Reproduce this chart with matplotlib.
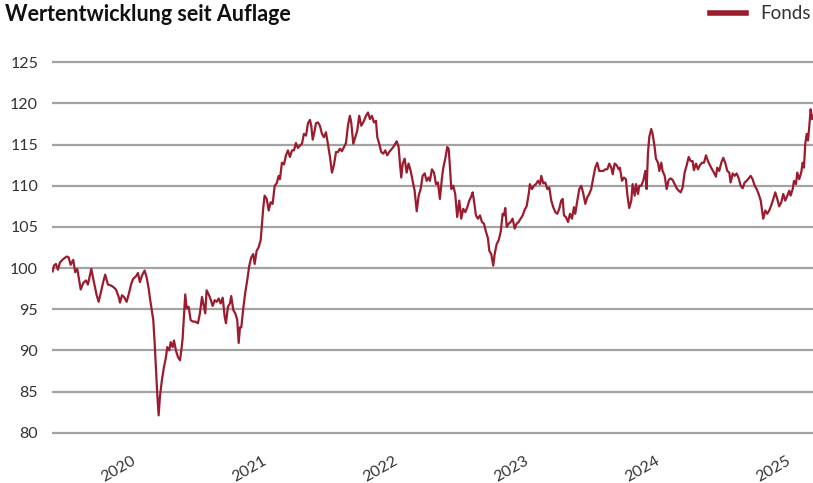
import matplotlib
matplotlib.use("Agg")
import matplotlib.pyplot as plt
from matplotlib.transforms import ScaledTranslation

# fund value (indexed to 100 at launch), x in fractional years
years = [
    2019.410, 2019.420, 2019.435, 2019.450, 2019.466, 2019.491, 2019.517, 2019.532, 2019.547, 2019.567,
    2019.582, 2019.598, 2019.624, 2019.644, 2019.664, 2019.679, 2019.705, 2019.725, 2019.746, 2019.761,
    2019.776, 2019.796, 2019.811, 2019.832, 2019.853, 2019.873, 2019.893, 2019.914, 2019.924, 2019.939,
    2019.954, 2019.975, 2019.995, 2020.010, 2020.025, 2020.046, 2020.061, 2020.076, 2020.092, 2020.112,
    2020.127, 2020.143, 2020.153, 2020.166, 2020.178, 2020.189, 2020.198, 2020.208, 2020.219, 2020.229,
    2020.244, 2020.260, 2020.275, 2020.285, 2020.300, 2020.311, 2020.326, 2020.336, 2020.351, 2020.366,
    2020.382, 2020.392, 2020.402, 2020.412, 2020.422, 2020.433, 2020.448, 2020.463, 2020.479, 2020.498,
    2020.519, 2020.534, 2020.550, 2020.565, 2020.575, 2020.585, 2020.601, 2020.616, 2020.631, 2020.647,
    2020.662, 2020.677, 2020.692, 2020.708, 2020.723, 2020.733, 2020.748, 2020.763, 2020.773, 2020.789,
    2020.804, 2020.819, 2020.830, 2020.840, 2020.850, 2020.865, 2020.880, 2020.895, 2020.911,
    2020.926, 2020.941, 2020.952, 2020.967, 2020.982, 2020.998, 2021.008, 2021.018, 2021.028, 2021.044,
    2021.059, 2021.074, 2021.089, 2021.105, 2021.120, 2021.135, 2021.145, 2021.160, 2021.176, 2021.191,
    2021.206, 2021.221, 2021.237, 2021.252, 2021.267, 2021.282, 2021.298, 2021.313, 2021.328, 2021.344,
    2021.359, 2021.374, 2021.384, 2021.395, 2021.410, 2021.420, 2021.435, 2021.450, 2021.466, 2021.481,
    2021.496, 2021.511, 2021.527, 2021.542, 2021.557, 2021.573, 2021.588, 2021.603, 2021.618, 2021.634,
    2021.649, 2021.664, 2021.679, 2021.689, 2021.705, 2021.720, 2021.735, 2021.750, 2021.766, 2021.781,
    2021.802, 2021.817, 2021.832, 2021.847, 2021.863, 2021.878, 2021.888, 2021.903, 2021.918, 2021.934,
    2021.949, 2021.964, 2021.979, 2021.995, 2022.010, 2022.025, 2022.036, 2022.051, 2022.061, 2022.071,
    2022.082, 2022.097, 2022.112, 2022.127, 2022.143, 2022.158, 2022.173, 2022.189, 2022.204, 2022.219,
    2022.234, 2022.250, 2022.265, 2022.280,
    2022.290, 2022.305, 2022.321, 2022.336, 2022.351, 2022.366, 2022.382, 2022.392, 2022.407, 2022.422,
    2022.433, 2022.443, 2022.453, 2022.468, 2022.483, 2022.498, 2022.514, 2022.529, 2022.544, 2022.560,
    2022.575, 2022.590, 2022.605, 2022.616, 2022.626, 2022.641, 2022.656, 2022.672, 2022.687, 2022.702,
    2022.718, 2022.733, 2022.743, 2022.758, 2022.773, 2022.784, 2022.799, 2022.815, 2022.830, 2022.845,
    2022.855, 2022.865, 2022.876, 2022.891, 2022.906, 2022.921, 2022.937, 2022.952, 2022.967, 2022.982,
    2022.998, 2023.013, 2023.028, 2023.044, 2023.053, 2023.069, 2023.084, 2023.099, 2023.115, 2023.130,
    2023.140, 2023.155, 2023.170, 2023.186, 2023.201, 2023.216, 2023.231, 2023.247, 2023.262, 2023.277,
    2023.292, 2023.303, 2023.313, 2023.328, 2023.344, 2023.359, 2023.374, 2023.389, 2023.399, 2023.415,
    2023.430, 2023.445, 2023.460, 2023.476, 2023.491, 2023.506, 2023.521, 2023.537, 2023.552, 2023.567,
    2023.582, 2023.598, 2023.613, 2023.628, 2023.644, 2023.659, 2023.674, 2023.685, 2023.700, 2023.715,
    2023.731,
    2023.740, 2023.756, 2023.771, 2023.786, 2023.796, 2023.811, 2023.827, 2023.837, 2023.853, 2023.863,
    2023.878, 2023.888, 2023.903, 2023.918, 2023.934, 2023.944, 2023.954, 2023.964, 2023.979, 2023.990,
    2024.005, 2024.015, 2024.031, 2024.041, 2024.056, 2024.066, 2024.082, 2024.097, 2024.112, 2024.127,
    2024.143, 2024.158, 2024.173, 2024.189, 2024.204, 2024.219, 2024.234, 2024.250, 2024.265, 2024.280,
    2024.295, 2024.305, 2024.321, 2024.336, 2024.351, 2024.366, 2024.382, 2024.397, 2024.412, 2024.427,
    2024.443, 2024.458, 2024.473, 2024.483, 2024.498, 2024.514, 2024.529, 2024.544, 2024.560, 2024.575,
    2024.585, 2024.601, 2024.616, 2024.631, 2024.647, 2024.662, 2024.677, 2024.692, 2024.708, 2024.723,
    2024.738, 2024.753, 2024.769, 2024.784, 2024.799, 2024.815, 2024.824, 2024.834, 2024.850, 2024.865,
    2024.880, 2024.895, 2024.911, 2024.926, 2024.941, 2024.956, 2024.972, 2024.987, 2025.002, 2025.018,
    2025.033, 2025.043, 2025.059, 2025.069, 2025.084, 2025.094, 2025.109, 2025.124, 2025.135, 2025.145,
    2025.155, 2025.166, 2025.176, 2025.186, 2025.196, 2025.206, 2025.214,
]

fonds = [
    99.6, 100.3, 100.5, 99.8, 100.7, 101.1, 101.4, 101.3, 100.4, 101.0,
    99.5, 99.9, 97.4, 98.2, 98.5, 98.0, 99.9, 98.3, 96.7, 95.9,
    96.9, 98.3, 99.2, 98.0, 97.9, 97.7, 97.4, 96.5, 95.8, 96.7,
    96.5, 95.9, 97.1, 98.1, 98.7, 99.0, 99.4, 98.3, 99.1, 99.7,
    98.9, 97.5, 96.3, 94.9, 93.7, 90.8, 88.0, 84.8, 82.1, 84.4,
    86.4, 88.0, 89.2, 90.4, 90.0, 91.0, 90.4, 91.2, 90.0, 89.2,
    88.8, 90.0, 91.4, 94.1, 96.8, 95.1, 95.3, 93.7, 93.5, 93.5,
    93.3, 94.5, 96.5, 95.3, 94.5, 97.3, 96.8, 96.2, 95.4, 96.1,
    95.9, 96.3, 95.7, 96.4, 94.1, 93.3, 95.3, 95.7, 96.6, 94.9,
    94.5, 93.7, 90.9, 92.8, 92.8, 95.1, 97.0, 98.5, 100.3,
    101.3, 101.7, 100.5, 102.1, 102.5, 103.4, 105.4, 107.4, 108.8, 108.4,
    107.0, 108.0, 107.8, 110.0, 110.3, 111.2, 110.8, 112.8, 112.6, 113.7,
    114.3, 113.5, 114.3, 114.3, 115.2, 114.6, 114.9, 115.1, 116.3, 116.1,
    117.6, 118.0, 117.3, 115.6, 116.7, 117.6, 117.7, 117.3, 116.3, 115.9,
    116.5, 115.1, 113.5, 111.6, 112.5, 114.1, 114.1, 114.5, 114.2, 114.7,
    115.2, 117.3, 118.5, 117.7, 115.1, 115.9, 116.7, 118.5, 117.3, 117.7,
    118.5, 118.9, 118.1, 118.5, 117.7, 117.9, 115.9, 115.1, 114.1, 113.9,
    114.3, 113.7, 114.1, 114.4, 114.7, 115.1, 115.4, 114.7, 112.7, 111.0,
    112.7, 113.3, 111.6, 112.7, 111.8, 110.6, 109.4, 106.9, 108.8, 109.6,
    111.2, 111.5, 110.6, 111.0,
    110.6, 112.0, 111.6, 110.2, 110.4, 108.4, 111.0, 112.2, 113.3, 114.7,
    114.5, 112.2, 109.6, 110.0, 109.0, 106.2, 108.2, 106.0, 107.2, 106.8,
    107.4, 108.2, 108.7, 109.2, 108.2, 106.4, 106.0, 106.4, 105.6, 105.4,
    104.4, 103.6, 102.1, 101.7, 100.3, 101.7, 102.9, 103.4, 104.4, 106.6,
    106.4, 107.3, 105.0, 105.4, 105.6, 106.0, 104.8, 105.4, 105.6, 106.0,
    106.4, 107.1, 107.5, 109.0, 110.2, 109.6, 110.0, 110.2, 110.6, 110.2,
    111.2, 110.3, 110.4, 109.6, 109.8, 108.2, 107.4, 106.8, 106.6, 107.2,
    108.2, 108.4, 106.4, 106.2, 105.6, 106.6, 106.0, 107.4, 106.6, 108.2,
    109.6, 110.0, 109.1, 107.8, 108.6, 109.0, 109.6, 111.0, 112.2, 112.8,
    111.8, 111.8, 111.8, 112.0, 112.0, 112.7, 112.2, 111.4, 112.7, 112.5,
    112.0,
    112.2, 110.6, 111.0, 110.8, 109.0, 107.3, 108.2, 110.2, 108.8, 110.2,
    109.0, 110.0, 110.0, 110.6, 111.8, 109.6, 113.9, 115.9, 116.9, 116.3,
    114.7, 113.3, 112.8, 111.8, 112.8, 111.8, 111.2, 109.6, 110.7, 110.9,
    110.7, 110.2, 109.7, 109.4, 109.2, 109.8, 111.6, 112.5, 113.5, 113.0,
    113.0, 111.9, 112.7, 112.0, 112.5, 112.8, 112.8, 113.7, 113.0, 112.5,
    112.0, 111.6, 111.1, 112.2, 111.8, 112.8, 113.4, 112.8, 111.8, 111.6,
    110.4, 111.5, 111.2, 111.5, 110.9, 110.0, 109.7, 110.4, 110.6, 110.9,
    111.2, 110.8, 110.0, 109.6, 109.0, 108.2, 107.2, 106.0, 107.0, 106.6,
    107.0, 107.6, 108.4, 109.2, 108.4, 107.5, 108.0, 109.0, 108.2, 108.8,
    109.4, 108.8, 109.6, 110.6, 110.2, 111.6, 110.8, 111.6, 112.8, 112.2,
    115.1, 116.3, 115.5, 117.3, 119.3, 118.1, 118.5,
]

year_ticks = [2020, 2021, 2022, 2023, 2024, 2025]
value_ticks = [80, 85, 90, 95, 100, 105, 110, 115, 120, 125]

LINE_RED = "#9b1c2e"
GRID_GREY = "#a3a3a3"
TEXT_COL = "#333333"

plt.rcParams["font.family"] = ["Lato", "DejaVu Sans"]

fig = plt.figure(figsize=(8.13, 4.83), dpi=100)
W, H = 813, 483
ax_left, ax_right = 52, 813
ax_top, ax_bottom = 58.2, 436.8
ax = fig.add_axes([ax_left / W, 1 - ax_bottom / H,
                   (ax_right - ax_left) / W, (ax_bottom - ax_top) / H])

ax.plot(years, fonds, color=LINE_RED, lw=1.6, label="Fonds", zorder=3)

ax.set_xlim(2019.405, 2025.214)
ax.set_ylim(79.5, 125.5)
ax.set_yticks(value_ticks)
ax.set_xticks(year_ticks)
ax.set_xticklabels([str(y) for y in year_ticks])

ax.yaxis.grid(True, color=GRID_GREY, lw=1.6)
ax.set_axisbelow(True)
for s in ax.spines.values():
    s.set_visible(False)

ax.tick_params(axis="y", length=0, pad=10, labelsize=11.5, labelcolor=TEXT_COL)
ax.tick_params(axis="x", length=0, pad=12, labelsize=11.5, labelcolor=TEXT_COL)
shift = ScaledTranslation(0.01, 0, fig.dpi_scale_trans)
for lab in ax.get_xticklabels():
    lab.set_rotation(30)
    lab.set_ha("right")
    lab.set_rotation_mode("anchor")
    lab.set_transform(lab.get_transform() + shift)

fig.text(5 / W, 1 - 21 / H, "Wertentwicklung seit Auflage", fontsize=15.5,
         fontweight="bold", color="#111111", va="baseline", ha="left")

leg = ax.legend(loc="upper right", bbox_to_anchor=(1.0, 0.993),
                bbox_transform=fig.transFigure, frameon=False, fontsize=13.5,
                handlelength=1.9, handletextpad=0.8, borderaxespad=0.0, borderpad=0.1)
for line in leg.get_lines():
    line.set_linewidth(4)
for t in leg.get_texts():
    t.set_color(TEXT_COL)

fig.savefig("out.png", dpi=100)
